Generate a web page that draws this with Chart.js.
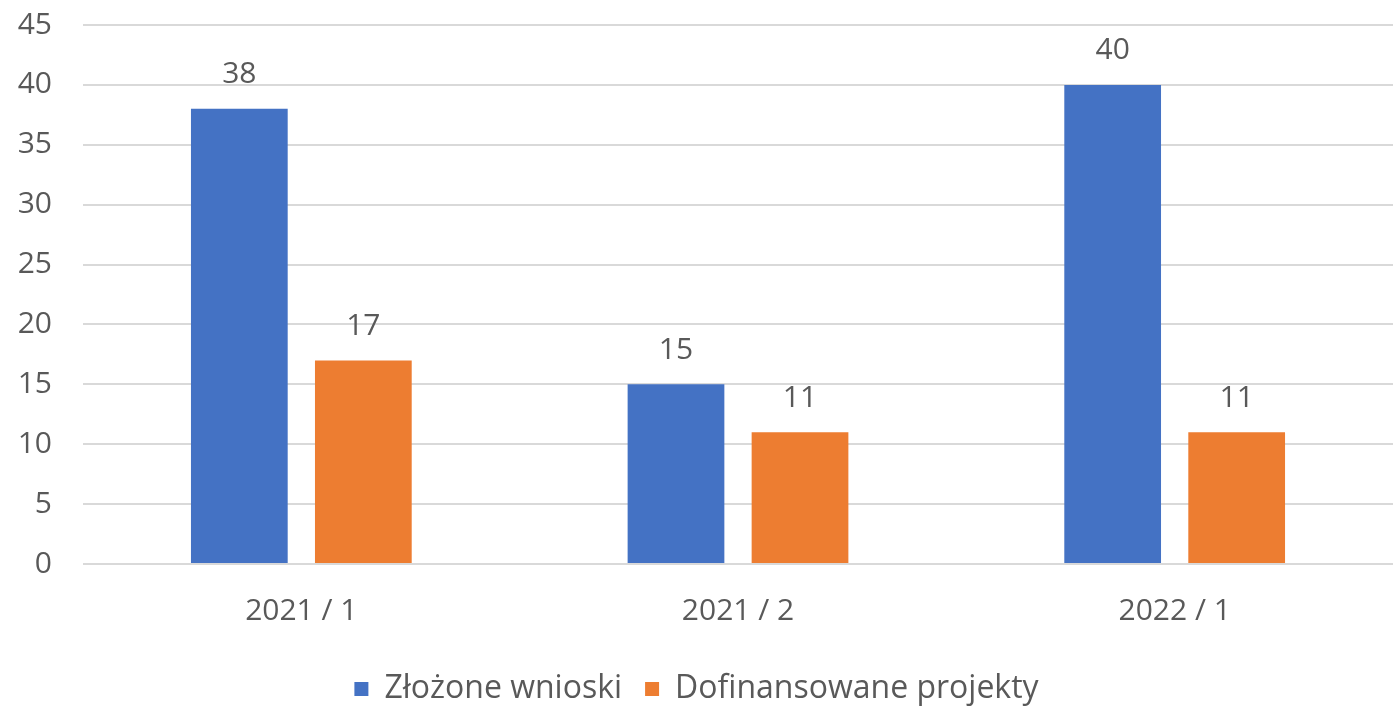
<!DOCTYPE html>
<html>
<head>
<meta charset="utf-8">
<script src="https://cdn.jsdelivr.net/npm/chart.js@4/dist/chart.umd.min.js"></script>
<style>
  html, body { margin: 0; padding: 0; background: #fff; }
  #wrap { width: 1393px; height: 709px; }
</style>
</head>
<body>
<div id="wrap"><canvas id="chart" width="1393" height="709"></canvas></div>
<script>
// values
const categories = ['2021 / 1', '2021 / 2', '2022 / 1'];
const submitted = [38, 15, 40];
const funded = [17, 11, 11];
const seriesNames = ['Złożone wnioski', 'Dofinansowane projekty'];
const yTicks = [0, 5, 10, 15, 20, 25, 30, 35, 40, 45];

const textColor = '#595959';
const gridColor = '#d9d9d9';
const fontFamily = '"Open Sans", "Noto Sans", sans-serif';
const fontSize = 30;

// simple value labels above each bar
const barValueLabels = {
    id: 'barValueLabels',
    afterDatasetsDraw(chart) {
        const ctx = chart.ctx;
        ctx.save();
        ctx.fillStyle = textColor;
        ctx.font = fontSize + 'px ' + fontFamily;
        ctx.textAlign = 'center';
        ctx.textBaseline = 'bottom';
        chart.data.datasets.forEach((ds, i) => {
            chart.getDatasetMeta(i).data.forEach((bar, j) => {
                ctx.fillText(ds.data[j], bar.x, bar.y - 19);
            });
        });
        ctx.restore();
    }
};

new Chart(document.getElementById('chart'), {
    type: 'bar',
    data: {
        labels: categories,
        datasets: [{
            label: seriesNames[0],
            data: submitted,
            backgroundColor: '#4472c4',
            categoryPercentage: 0.568,
            barPercentage: 0.78
        }, {
            label: seriesNames[1],
            data: funded,
            backgroundColor: '#ed7d31',
            categoryPercentage: 0.568,
            barPercentage: 0.78
        }]
    },
    options: {
        responsive: false,
        animation: false,
        layout: { padding: { top: 0, right: 0, bottom: -6, left: 0 } },
        plugins: {
            legend: {
                position: 'bottom',
                labels: {
                    color: textColor,
                    font: { family: fontFamily, size: 32 },
                    boxWidth: 14,
                    boxHeight: 14,
                    padding: 23
                }
            },
            tooltip: { enabled: false }
        },
        scales: {
            x: {
                grid: { display: false },
                border: { display: false },
                ticks: {
                    color: textColor,
                    font: { family: fontFamily, size: fontSize },
                    padding: 21
                }
            },
            y: {
                min: 0,
                max: 45,
                afterBuildTicks(axis) {
                    axis.ticks = yTicks.map(v => ({ value: v }));
                },
                // keep the tick padding from pushing the plot area down
                afterFit(axis) {
                    axis.width = 83;
                    axis.paddingTop = 25;
                    axis.paddingBottom = 18;
                },
                grid: { color: gridColor, lineWidth: 2, drawTicks: false },
                border: { display: false },
                ticks: {
                    color: textColor,
                    font: { family: fontFamily, size: fontSize },
                    padding: 31
                }
            }
        }
    },
    plugins: [barValueLabels]
});
</script>
</body>
</html>
